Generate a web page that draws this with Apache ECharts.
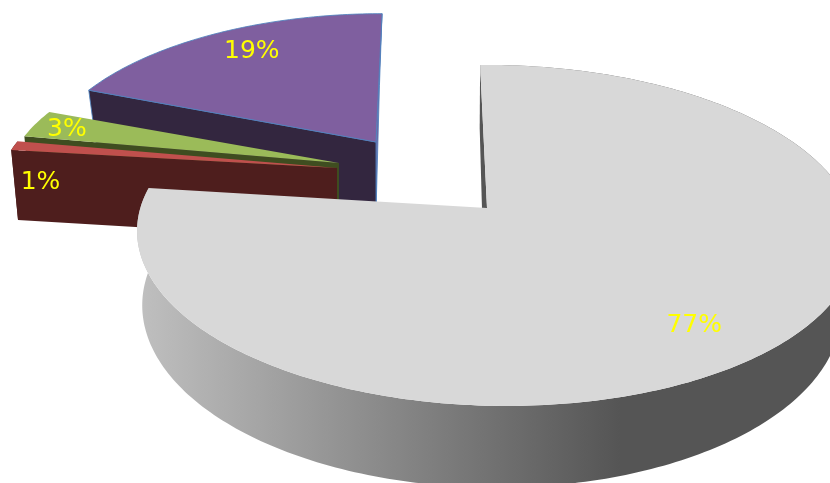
<!DOCTYPE html>
<html>
<head>
<meta charset="utf-8">
<style>
  html, body { margin: 0; padding: 0; background: #fff; }
  #chart { width: 830px; height: 483px; }
</style>
<script src="https://cdn.jsdelivr.net/npm/echarts@6/dist/echarts.min.js"></script>
</head>
<body>
<div id="chart"></div>
<script>
// Percent shares, clockwise from twelve o'clock.
const shares = [77, 1, 3, 19];
const topColors = ['#d8d8d8', '#c0504d', '#9bbb59', '#7f5f9f'];
const edgeColors = ['#555555', '#4e1e1d', '#3f4d20', '#33263f'];
const labelColor = '#ffff00';

// Depth foreshortening of the tilted disc.
const PERSPECTIVE = 0.161;

// Each wedge has a top frame and a base frame, pulled out from the main disc.
// j is a small sideways perspective; lean slides the radial wall's foot.
const wedgeLayout = [
  {
    top: { ax: 487, ay: 208, rx: 355, ry: 166, sx: -8, j: -0.024 },
    base: { ax: 491, ay: 279, rx: 345, ry: 175, sx: -5 },
    lean: -7, outer: true,
    label: { r: 0.8, dx: -9, dy: 6 }
  },
  {
    top: { ax: 337, ay: 168, rx: 335, ry: 147, sx: 0 },
    base: { ax: 337, ay: 239, rx: 328, ry: 155, sx: 0 },
    lean: 0, outer: true,
    label: { r: 0.92, dx: 1, dy: 35 }
  },
  {
    top: { ax: 339, ay: 163, rx: 330, ry: 147, sx: 0 },
    base: { ax: 339, ay: 233, rx: 323, ry: 150, sx: 0 },
    lean: 0, outer: false,
    label: { r: 0.9, dx: 2, dy: 2 }
  },
  {
    top: { ax: 376, ay: 142, rx: 330, ry: 149, sx: 7 },
    base: { ax: 376, ay: 212, rx: 318, ry: 147, sx: 4 },
    lean: 0, outer: false,
    farWall: '#7a5f9c', stroke: 'rgba(79,129,189,0.85)',
    label: { r: 0.85, dx: 13, dy: 4 }
  }
];

// Furthest wedge first, the big slice last.
const paintOrder = [3, 2, 1, 0];

const total = shares.reduce((a, b) => a + b, 0);

function sweep(index) {
  let before = 0;
  for (let i = 0; i < index; i++) before += shares[i];
  return [before / total * 360, (before + shares[index]) / total * 360];
}

// Disc position (radius r, bearing deg clockwise from the back) to pixels.
function project(frame, deg, r) {
  const a = deg * Math.PI / 180;
  const u = Math.sin(a) * r;
  const v = Math.cos(a) * r;
  const d = 1 + PERSPECTIVE * v + (frame.j || 0) * u;
  return [frame.ax + (frame.rx * u + frame.sx * v) / d, frame.ay - frame.ry * v / d];
}

function arc(frame, from, to) {
  const pts = [];
  const n = Math.max(2, Math.ceil(Math.abs(to - from)));
  for (let i = 0; i <= n; i++) pts.push(project(frame, from + (to - from) * i / n, 1));
  return pts;
}

function leaned(p, lean) {
  return [p[0] + lean, p[1]];
}

const sideShade = new echarts.graphic.LinearGradient(136, 0, 620, 0, [
  { offset: 0, color: '#c0c0c0' },
  { offset: 1, color: '#555555' }
], true);

function poly(points, fill, stroke) {
  return {
    type: 'polygon',
    shape: { points },
    style: stroke ? { fill, stroke, lineWidth: 1 } : { fill }
  };
}

function renderWedge(params, api) {
  const index = api.value(0);
  const value = api.value(1);
  const lay = wedgeLayout[index];
  const [from, to] = sweep(index);
  const children = [];

  if (lay.outer) {
    const rim = arc(lay.top, from, to).concat(arc(lay.base, from, to).reverse());
    children.push(poly(rim, index === 0 ? sideShade : edgeColors[index]));
  }
  if (lay.farWall) {
    children.push(poly([
      project(lay.top, to, 1), [lay.top.ax, lay.top.ay],
      [lay.base.ax, lay.base.ay], project(lay.base, to, 1)
    ], lay.farWall, lay.stroke));
  }
  children.push(poly([
    project(lay.top, from, 1), [lay.top.ax, lay.top.ay],
    leaned([lay.base.ax, lay.base.ay], lay.lean), leaned(project(lay.base, from, 1), lay.lean)
  ], edgeColors[index], lay.stroke));

  children.push(poly(
    [[lay.top.ax, lay.top.ay]].concat(arc(lay.top, from, to)),
    topColors[index], lay.stroke
  ));

  const spot = project(lay.top, (from + to) / 2, lay.label.r);
  children.push({
    type: 'text',
    z2: 10,
    style: {
      text: value + '%',
      x: spot[0] + lay.label.dx,
      y: spot[1] + lay.label.dy,
      fill: labelColor,
      font: '25px "DejaVu Sans", sans-serif',
      align: 'center',
      verticalAlign: 'middle'
    }
  });
  return { type: 'group', children };
}

const chart = echarts.init(document.getElementById('chart'), null, { renderer: 'canvas' });
chart.setOption({
  animation: false,
  backgroundColor: '#ffffff',
  series: [{
    type: 'custom',
    coordinateSystem: 'none',
    silent: true,
    clip: false,
    renderItem: renderWedge,
    data: paintOrder.map(i => [i, shares[i]])
  }]
});
</script>
</body>
</html>
